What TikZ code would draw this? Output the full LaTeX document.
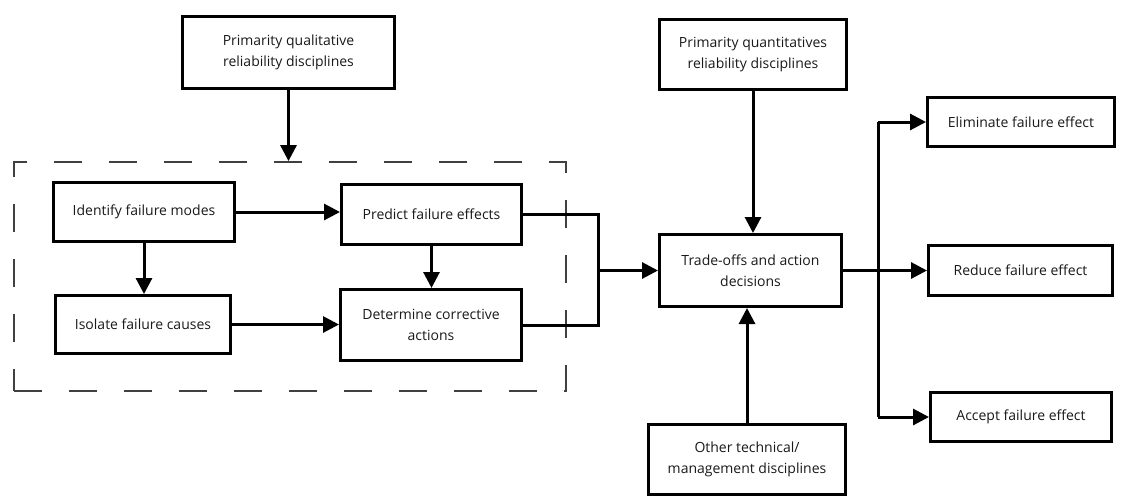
\documentclass[tikz,border=0pt]{standalone}
\usepackage{fontspec}
\setmainfont{Open Sans}
\usetikzlibrary{arrows.meta}
\begin{document}
\begin{tikzpicture}[x=1pt,y=-1pt,
  box/.style={draw=black, line width=3pt, align=center, inner sep=2pt,
    text=black!90, font=\fontsize{14}{21}\selectfont},
  flow/.style={line width=3pt, -{Triangle[length=16pt,width=16pt]}},
  link/.style={line width=3pt},
  group/.style={draw=black!75, line width=1.8pt, dash pattern=on 28pt off 27pt}]
\useasboundingbox (0,0) rectangle (1123,496);

% dashed grouping frame of the analysis steps
\node[group, minimum width=552pt, minimum height=229pt, inner sep=0pt] (grp) at (290,276.5) {};

% boxes
\node[box, minimum width=212pt, minimum height=72pt] (qual) at (288.5,52.5) {Primarity qualitative\\reliability disciplines};
\node[box, minimum width=181pt, minimum height=59pt] (ident) at (144,212) {Identify failure modes};
\node[box, minimum width=175pt, minimum height=58pt] (isol) at (143,324.5) {Isolate failure causes};
\node[box, minimum width=180pt, minimum height=60pt] (pred) at (431.5,214.5) {Predict failure effects};
\node[box, minimum width=181pt, minimum height=71pt] (det) at (431,325) {Determine corrective\\actions};
\node[box, minimum width=187pt, minimum height=70pt] (quant) at (753,54.5) {Primarity quantitatives\\reliability disciplines};
\node[box, minimum width=182pt, minimum height=72pt] (trade) at (750.5,270.5) {Trade-offs and action\\decisions};
\node[box, minimum width=197pt, minimum height=70pt] (other) at (747,459) {Other technical/\\management disciplines};
\node[box, minimum width=187pt, minimum height=49pt] (elim) at (1021,122) {Eliminate failure effect};
\node[box, minimum width=184pt, minimum height=50pt] (reduce) at (1020.5,270.5) {Reduce failure effect};
\node[box, minimum width=181pt, minimum height=49pt] (accept) at (1021,417) {Accept failure effect};

% junction points
\coordinate (jin) at (598,270.5);
\coordinate (jout) at (878,270.5);

% connectors
\draw[flow] (qual.south) -- (qual.south |- grp.north);
\draw[flow] (ident.east) -- (ident.east -| pred.west);
\draw[flow] (ident.south) -- (ident.south |- isol.north);
\draw[flow] (pred.south) -- (pred.south |- det.north);
\draw[flow] (isol.east) -- (isol.east -| det.west);
\draw[link] (pred.east) -| (jin) |- (det.east);
\draw[flow] (jin) -- (trade.west);
\draw[flow] (quant.south) -- (quant.south |- trade.north);
\draw[flow] (other.north) -- (other.north |- trade.south);
\draw[flow] (trade.east) -- (reduce.west);
\draw[link] (jout |- elim.west) -- (jout |- accept.west);
\draw[flow] (jout |- elim.west) -- (elim.west);
\draw[flow] (jout |- accept.west) -- (accept.west);
\end{tikzpicture}
\end{document}
